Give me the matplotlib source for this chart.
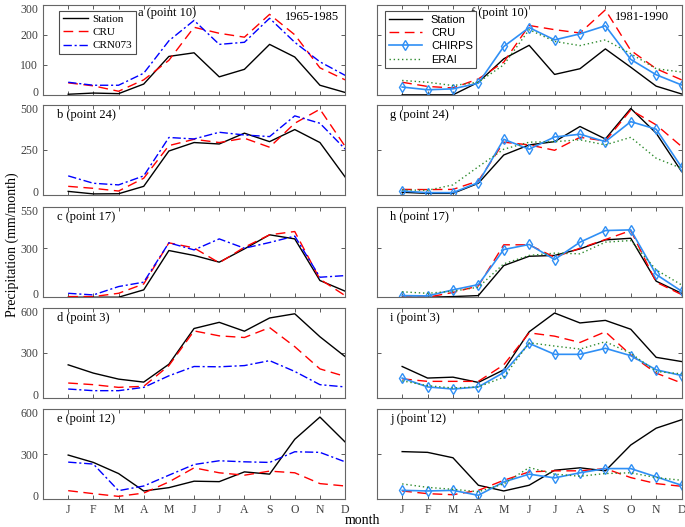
#!/usr/bin/python3
# coding:utf-8

import matplotlib
matplotlib.use("Agg")
import matplotlib.pyplot as plt
import matplotlib.transforms as mtransforms

plt.rcParams['font.family'] = ['Liberation Serif', 'DejaVu Serif']

months = ["J", "F", "M", "A", "M", "J", "J", "A", "S", "O", "N", "D"]

# left column, 1965-1985
a_station = [2, 6, 4, 36, 128, 140, 60, 85, 168, 126, 32, 8]
a_cru = [40, 30, 12, 50, 115, 225, 205, 192, 268, 200, 90, 50]
a_crn = [42, 32, 32, 72, 180, 248, 168, 175, 255, 175, 110, 65]

b_station = [20, 6, 7, 48, 244, 291, 283, 343, 296, 363, 291, 100]
b_cru = [48, 37, 22, 93, 274, 309, 291, 315, 265, 398, 476, 270]
b_crn = [106, 65, 56, 106, 319, 311, 348, 333, 324, 439, 398, 255]

c_station = [0, 0, 0, 45, 285, 255, 214, 295, 381, 356, 102, 37]
c_cru = [4, 4, 24, 81, 332, 301, 210, 305, 381, 401, 110, 10]
c_crn = [24, 14, 65, 92, 332, 289, 356, 299, 334, 373, 122, 132]

d_station = [220, 165, 125, 105, 224, 462, 503, 444, 532, 560, 407, 275]
d_cru = [99, 88, 70, 77, 215, 446, 413, 402, 468, 341, 193, 143]
d_crn = [59, 48, 48, 70, 147, 209, 207, 215, 248, 176, 88, 73]

e_station = [293, 244, 170, 54, 76, 119, 116, 181, 166, 398, 546, 380]
e_cru = [56, 36, 18, 40, 114, 208, 175, 159, 186, 175, 103, 87]
e_crn = [246, 233, 56, 87, 159, 230, 255, 248, 244, 315, 311, 248]

# right column, 1981-1990
f_station = [0, 0, 0, 42, 120, 165, 68, 87, 153, 92, 29, 3]
f_cru = [42, 28, 23, 53, 109, 231, 217, 206, 283, 148, 87, 50]
f_chirps = [26, 17, 20, 39, 161, 224, 183, 203, 230, 118, 67, 33]
f_erai = [48, 42, 31, 42, 100, 217, 178, 164, 183, 137, 87, 76]

g_station = [15, 9, 9, 65, 222, 278, 296, 380, 311, 480, 343, 130]
g_cru = [31, 30, 31, 78, 293, 278, 248, 320, 300, 472, 389, 269]
g_chirps = [22, 13, 13, 69, 309, 254, 322, 337, 296, 407, 365, 154]
g_erai = [28, 26, 56, 157, 254, 293, 296, 306, 278, 320, 204, 148]

h_station = [0, 0, 4, 10, 193, 250, 255, 295, 350, 360, 98, 24]
h_cru = [0, 0, 29, 69, 320, 320, 244, 299, 352, 407, 92, 16]
h_chirps = [10, 8, 45, 77, 291, 322, 230, 336, 407, 411, 139, 37]
h_erai = [33, 24, 37, 61, 204, 255, 269, 265, 336, 346, 167, 75]

i_station = [209, 132, 138, 103, 187, 440, 565, 499, 516, 457, 270, 242]
i_cru = [127, 110, 110, 110, 220, 433, 411, 369, 440, 286, 165, 99]
i_chirps = [132, 73, 59, 73, 169, 363, 290, 290, 330, 281, 187, 149]
i_erai = [114, 81, 66, 73, 138, 367, 345, 325, 374, 297, 176, 160]

j_station = [316, 311, 275, 92, 54, 92, 192, 208, 188, 360, 472, 528]
j_cru = [54, 36, 29, 58, 125, 181, 188, 188, 203, 143, 103, 85]
j_chirps = [58, 54, 58, 25, 114, 166, 141, 175, 203, 203, 148, 92]
j_erai = [101, 78, 65, 49, 101, 210, 166, 152, 170, 175, 143, 125]

left_rows = [
    ("a (point 10)", a_station, a_cru, a_crn, [0, 100, 200, 300]),
    ("b (point 24)", b_station, b_cru, b_crn, [0, 250, 500]),
    ("c (point 17)", c_station, c_cru, c_crn, [0, 300, 550]),
    ("d (point 3)", d_station, d_cru, d_crn, [0, 300, 600]),
    ("e (point 12)", e_station, e_cru, e_crn, [0, 300, 600]),
]
right_rows = [
    ("f (point 10)", f_station, f_cru, f_chirps, f_erai),
    ("g (point 24)", g_station, g_cru, g_chirps, g_erai),
    ("h (point 17)", h_station, h_cru, h_chirps, h_erai),
    ("i (point 3)", i_station, i_cru, i_chirps, i_erai),
    ("j (point 12)", j_station, j_cru, j_chirps, j_erai),
]

xx = list(range(1, 13))
bottoms = [0.820, 0.630, 0.436, 0.245, 0.053]
height = 0.171
edge = '0.4'

fig = plt.figure(figsize=(6.85, 5.27), dpi=100)


def style_axes(ax, yticks, show_y, show_x):
    ax.set_xlim(0, 12)
    ax.set_ylim(yticks[0], yticks[-1])
    ax.set_xticks(xx)
    ax.set_yticks(yticks)
    ax.tick_params(direction='in', top=True, right=True, length=3,
                   colors='0.25', labelsize=8.5, width=0.6)
    if show_x:
        ax.set_xticklabels(months)
    else:
        ax.set_xticklabels([])
    if not show_y:
        ax.set_yticklabels([])
    else:
        # nudge end labels a little so neighbouring panels do not collide
        ticks = ax.yaxis.get_major_ticks()
        up = mtransforms.ScaledTranslation(0, 2.5 / 72., fig.dpi_scale_trans)
        down = mtransforms.ScaledTranslation(0, -2.5 / 72., fig.dpi_scale_trans)
        ticks[0].label1.set_transform(ticks[0].label1.get_transform() + up)
        ticks[-1].label1.set_transform(ticks[-1].label1.get_transform() + down)
    for s in ax.spines.values():
        s.set_color(edge)
        s.set_linewidth(0.8)


for k, (lab, st, cru, crn, yt) in enumerate(left_rows):
    ax = fig.add_axes([0.0628, bottoms[k], 0.441, height])
    ax.plot(xx, st, color='black', lw=1.0, label='Station')
    ax.plot(xx, cru, color='red', lw=1.0, ls=(0, (7, 4)), label='CRU')
    ax.plot(xx, crn, color='blue', lw=1.0, ls=(0, (6, 2, 1.5, 2)), label='CRN073')
    style_axes(ax, yt, True, k == 4)
    if k == 0:
        ax.text(0.315, 0.91, lab, transform=ax.transAxes, fontsize=9, va='center')
        ax.text(0.89, 0.86, "1965-1985", transform=ax.transAxes, fontsize=9,
                va='center', ha='center')
        leg = ax.legend(loc='upper left', bbox_to_anchor=(0.045, 0.96), fontsize=8,
                        handlelength=2.3, handletextpad=0.4, fancybox=False,
                        edgecolor='0.3', framealpha=1, borderpad=0.35,
                        borderaxespad=0.2, labelspacing=0.3)
        leg.get_frame().set_linewidth(0.8)
    else:
        ax.text(0.045, 0.89, lab, transform=ax.transAxes, fontsize=9, va='center')

for k, (lab, st, cru, chi, era) in enumerate(right_rows):
    yt = left_rows[k][4]
    ax = fig.add_axes([0.550, bottoms[k], 0.445, height])
    ax.plot(xx, st, color='black', lw=1.0, label='Station')
    ax.plot(xx, cru, color='red', lw=1.0, ls=(0, (7, 4)), label='CRU')
    ax.plot(xx, chi, color='#2f8ff5', lw=1.2, marker='d', ms=5, mfc='none',
            mew=1.0, label='CHIRPS')
    ax.plot(xx, era, color='#2e8b2e', lw=1.0, ls=(0, (1, 2)), label='ERAI')
    style_axes(ax, yt, False, k == 4)
    if k == 0:
        ax.text(0.31, 0.91, lab, transform=ax.transAxes, fontsize=9, va='center')
        ax.text(0.87, 0.86, "1981-1990", transform=ax.transAxes, fontsize=9,
                va='center', ha='center')
        leg = ax.legend(loc='upper left', bbox_to_anchor=(0.01, 0.99),
                        prop={'family': 'Liberation Sans', 'size': 8},
                        handlelength=3.0, fancybox=False, edgecolor='0.3',
                        framealpha=1, borderpad=0.3, labelspacing=0.3)
        leg.get_frame().set_linewidth(0.8)
    else:
        ax.text(0.043, 0.89, lab, transform=ax.transAxes, fontsize=9, va='center')

fig.text(0.018, 1 - 245 / 527., "Precipitation (mm/month)", rotation=90,
         fontsize=10, va='center', ha='center')
fig.text(362 / 685., 1 - 521 / 527., "month", fontsize=10, va='center', ha='center')

fig.savefig("out.png", dpi=100)
